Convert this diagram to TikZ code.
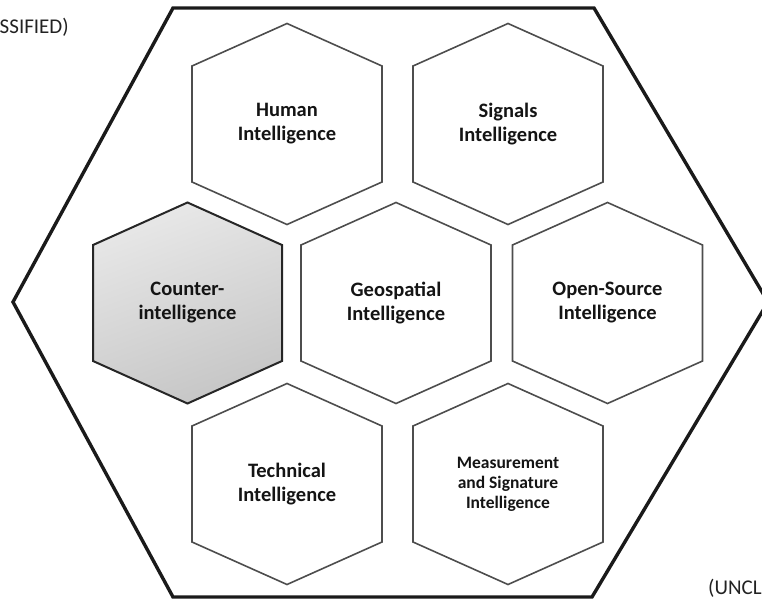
\documentclass[tikz,border=0pt]{standalone}
\usepackage{fontspec}
\setmainfont{Carlito}
\usetikzlibrary{positioning, backgrounds}
\definecolor{outeredge}{HTML}{1A1A1A}
\definecolor{celledge}{HTML}{4D4D4D}
\definecolor{ciedge}{HTML}{262626}
\definecolor{citop}{HTML}{E8E8E8}
\definecolor{cibottom}{HTML}{C6C6C6}
\definecolor{marktext}{HTML}{222222}

\begin{document}
\begin{tikzpicture}[x=1pt, y=-1pt,
    cell/.style={draw=celledge, line width=1.6pt, line join=miter},
    celltext/.style={font=\bfseries\fontsize{20.5}{24}\selectfont, align=center, text=black!92},
    smalltext/.style={font=\bfseries\fontsize{17.5}{20}\selectfont, align=center, text=black!92},
    classmark/.style={font=\fontsize{21}{24}\selectfont, text=marktext, inner sep=0pt}]
    \useasboundingbox (0,0) rectangle (762,599);
    \clip (0,0) rectangle (762,599);

    % Outer hexagon
    \draw[outeredge, line width=3.4pt, line join=miter]
        (173,8) -- (594,8) -- (768,302) -- (592,597) -- (173,597) -- (13,302) -- cycle;

    % Cell labels, one row at a time
    \node[celltext] (human)   at (287,124)   {Human\\Intelligence};
    \node[celltext] (signals) at (508,124)   {Signals\\Intelligence};
    \node[celltext] (counter) at (187.5,303) {Counter-\\intelligence};
    \node[celltext] (geo)     at (396,303)   {Geospatial\\Intelligence};
    \node[celltext] (osint)   at (607.5,303) {Open-Source\\Intelligence};
    \node[celltext] (tech)    at (287,484)   {Technical\\Intelligence};
    \node[smalltext] (masint) at (508,484)   {Measurement\\and Signature\\Intelligence};

    % Hexagon around each label
    \foreach \nm in {human, signals, geo, osint, tech, masint}
        \draw[cell] (\nm.center) ++(0,-100.5) -- ++(95,42.5) -- ++(0,116)
            -- ++(-95,42.5) -- ++(-95,-42.5) -- ++(0,-116) -- cycle;

    % Highlighted cell
    \begin{scope}[on background layer]
        \draw[draw=ciedge, line width=2pt, top color=citop, bottom color=cibottom, shading angle=20]
            (counter.center) ++(0,-100.5) -- ++(94.5,42.5) -- ++(0,116)
            -- ++(-94.5,42.5) -- ++(-94.5,-42.5) -- ++(0,-116) -- cycle;
    \end{scope}

    % Classification marks (only their visible parts)
    \node[classmark, anchor=east] (topmark) at (69,27) {SSIFIED)};
    \node[classmark, anchor=west] (botmark) at (708,588) {(UNCL};
\end{tikzpicture}
\end{document}
